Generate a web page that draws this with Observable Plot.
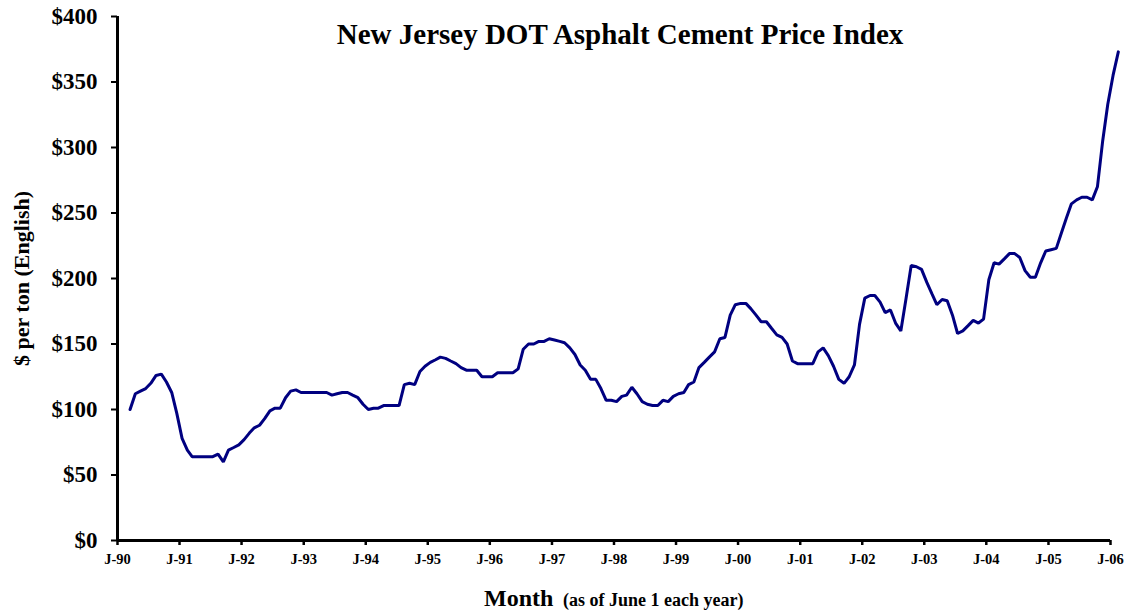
<!DOCTYPE html>
<html>
<head>
<meta charset="utf-8">
<script src="https://cdn.jsdelivr.net/npm/d3@7"></script>
<script src="https://cdn.jsdelivr.net/npm/@observablehq/plot@0.6"></script>
<style>
  html, body { margin: 0; padding: 0; background: #fff; }
  #chart svg { display: block; }
</style>
</head>
<body>
<div id="chart"></div>
<script>
// Monthly asphalt cement price index ($ per ton), March 1990 – February 2006
const firstYear = 1990;
const firstMonth = 2; // March (0-based)
const p1990 = [100, 112, 114, 116, 120, 126, 127, 121, 113, 97];
const p1991 = [78, 69, 64, 64, 64, 64, 64, 66, 60, 69, 71, 73];
const p1992 = [77, 82, 86, 88, 93, 99, 101, 101, 109, 114, 115, 113];
const p1993 = [113, 113, 113, 113, 113, 111, 112, 113, 113, 111, 109, 104];
const p1994 = [100, 101, 101, 103, 103, 103, 103, 119, 120, 119, 129, 133];
const p1995 = [136, 138, 140, 139, 137, 135, 132, 130, 130, 130, 125, 125];
const p1996 = [125, 128, 128, 128, 128, 131, 146, 150, 150, 152, 152, 154];
const p1997 = [153, 152, 151, 147, 142, 134, 130, 123, 123, 116, 107, 107];
const p1998 = [106, 110, 111, 117, 112, 106, 104, 103, 103, 107, 106, 110];
const p1999 = [112, 113, 119, 121, 132, 136, 140, 144, 154, 155, 172, 180];
const p2000 = [181, 181, 177, 172, 167, 167, 162, 157, 155, 150, 137, 135];
const p2001 = [135, 135, 135, 144, 147, 141, 133, 123, 120, 125, 134, 165];
const p2002 = [185, 187, 187, 182, 174, 176, 166, 160, 185, 210, 209, 207];
const p2003 = [197, 188, 180, 184, 183, 172, 158, 160, 164, 168, 166, 169];
const p2004 = [199, 212, 211, 215, 219, 219, 216, 206, 201, 201, 212, 221];
const p2005 = [222, 223, 234, 246, 257, 260, 262, 262, 260, 270, 305, 333];
const p2006 = [355, 373];

const yTicks = [0, 50, 100, 150, 200, 250, 300, 350, 400];
const tickYears = d3.range(1990, 2007);

const titleText = "New Jersey DOT Asphalt Cement Price Index";
const yLabel = "$ per ton (English)";
const xLabelMain = "Month";
const xLabelNote = "(as of June 1 each year)";

const allValues = [].concat(p1990, p1991, p1992, p1993, p1994, p1995, p1996, p1997,
  p1998, p1999, p2000, p2001, p2002, p2003, p2004, p2005, p2006);
const data = allValues.map((v, k) => ({
  date: new Date(Date.UTC(firstYear, firstMonth + k, 16)),
  value: v
}));

const xStart = new Date(Date.UTC(1990, 0, 1));
const xEnd = new Date(Date.UTC(2006, 0, 1));
const xTicks = tickYears.map(y => new Date(Date.UTC(y, 0, 1)));

const serif = "'Liberation Serif', 'Times New Roman', serif";

const chart = Plot.plot({
  width: 1142,
  height: 611,
  marginLeft: 117,
  marginRight: 32,
  marginTop: 16,
  marginBottom: 71,
  style: { fontFamily: serif, fontWeight: "bold", color: "#000", background: "#fff" },
  x: { type: "utc", domain: [xStart, xEnd] },
  y: { domain: [0, 400] },
  marks: [
    Plot.axisY({
      ticks: yTicks, tickFormat: d => "$" + d, tickSize: 6, tickPadding: 14,
      fontSize: 23, fontWeight: "bold", strokeWidth: 2, label: null
    }),
    Plot.axisX({
      ticks: xTicks, tickFormat: d => "J-" + String(d.getUTCFullYear()).slice(2),
      tickSize: 5, tickPadding: 8, fontSize: 14.5, fontWeight: "bold", strokeWidth: 2.5, label: null
    }),
    Plot.ruleX([xStart], { stroke: "#000", strokeWidth: 3 }),
    Plot.ruleY([0], { stroke: "#000", strokeWidth: 3 }),
    Plot.line(data, { x: "date", y: "value", stroke: "#000080", strokeWidth: 3, strokeLinejoin: "miter" }),
    Plot.text([titleText], { frameAnchor: "top", lineAnchor: "middle", dy: 18, dx: 6, fontSize: 29, fontWeight: "bold", fill: "#000" }),
    Plot.text([yLabel], { frameAnchor: "left", textAnchor: "middle", lineAnchor: "middle", rotate: -90, dx: -96, fontSize: 22, fontWeight: "bold", fill: "#000" }),
    Plot.text([xLabelMain], { frameAnchor: "bottom", lineAnchor: "middle", textAnchor: "start", dx: -130, dy: 58, fontSize: 24, fontWeight: "bold", fill: "#000" }),
    Plot.text([xLabelNote], { frameAnchor: "bottom", lineAnchor: "middle", textAnchor: "start", dx: -51, dy: 60, fontSize: 18, fontWeight: "bold", fill: "#000" })
  ]
});
document.getElementById("chart").appendChild(chart);
</script>
</body>
</html>
